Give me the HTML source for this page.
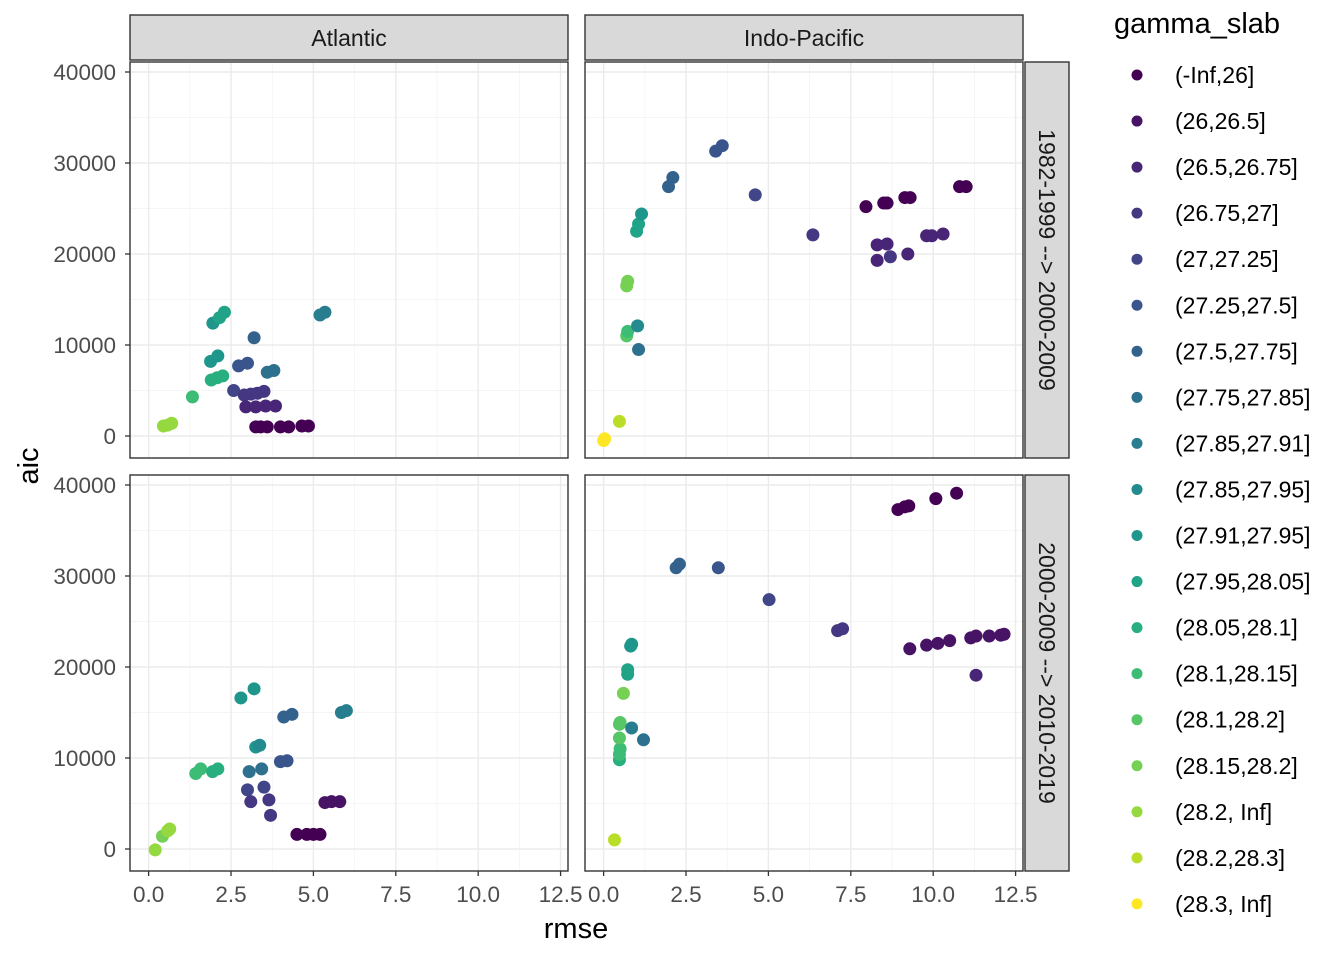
<!DOCTYPE html>
<html><head><meta charset="utf-8"><style>
html,body{margin:0;padding:0;background:#fff}
svg text{font-family:"Liberation Sans",sans-serif}
</style></head><body>
<svg id="chart" width="1344" height="960" xmlns="http://www.w3.org/2000/svg"></svg>
<script>
const levels=["(-Inf,26]","(26,26.5]","(26.5,26.75]","(26.75,27]","(27,27.25]","(27.25,27.5]","(27.5,27.75]","(27.75,27.85]","(27.85,27.91]","(27.85,27.95]","(27.91,27.95]","(27.95,28.05]","(28.05,28.1]","(28.1,28.15]","(28.1,28.2]","(28.15,28.2]","(28.2, Inf]","(28.2,28.3]","(28.3, Inf]"];
const colors=["#440154","#471365","#482576","#453781","#404688","#39558C","#33638D","#2D718E","#287D8E","#238A8D","#1F968B","#20A386","#29AF7F","#3CBC75","#56C667","#75D054","#95D840","#BADE28","#FDE725"];
const xTicks=[0,2.5,5,7.5,10,12.5];
const xTickLabels=["0.0","2.5","5.0","7.5","10.0","12.5"];
const yTicks=[0,10000,20000,30000,40000];
const colFacets=["Atlantic","Indo-Pacific"];
const rowFacets=["1982-1999 --> 2000-2009","2000-2009 --> 2010-2019"];
// panel 0: Atlantic top
const p0Cat=[16,16,16,13,12,12,12,10,10,10,11,11,4,5,5,6,7,7,8,8,3,3,3,3,2,2,2,2,0,0,0,0,0,0,0];
const p0X=[0.45,0.58,0.7,1.33,1.9,2.08,2.25,1.88,2.1,1.95,2.15,2.3,2.58,2.73,3.0,3.2,3.6,3.8,5.2,5.35,2.9,3.1,3.3,3.5,2.95,3.25,3.55,3.85,3.25,3.4,3.6,4.0,4.25,4.65,4.85];
const p0Y=[1100,1200,1400,4300,6150,6400,6600,8200,8800,12400,13000,13600,5000,7700,8000,10800,7000,7200,13300,13600,4500,4600,4700,4900,3200,3200,3300,3300,1000,1000,1000,1000,1000,1100,1100];
// panel 1: Indo-Pacific top
const p1Cat=[18,18,17,15,15,14,13,9,7,11,11,10,6,6,5,5,4,3,0,0,0,0,0,0,0,2,2,2,3,2,2,2,2];
const p1X=[0,0.03,0.48,0.7,0.73,0.7,0.73,1.03,1.06,1.0,1.06,1.15,1.97,2.1,3.4,3.6,4.6,6.35,7.96,8.5,8.6,9.14,9.3,10.8,11.0,8.3,8.6,8.3,8.7,9.23,9.8,9.96,10.3];
const p1Y=[-500,-300,1600,16500,17000,11000,11500,12100,9500,22500,23300,24400,27400,28400,31300,31900,26500,22100,25200,25600,25600,26200,26200,27400,27400,21000,21100,19300,19700,20000,22000,22000,22200];
// panel 2: Atlantic bottom
const p2Cat=[16,15,16,16,13,13,12,12,10,10,10,9,7,7,6,6,5,5,8,8,4,4,3,3,3,0,0,0,0,1,1,1];
const p2X=[0.2,0.42,0.58,0.64,1.43,1.58,1.94,2.1,2.8,3.2,3.25,3.37,3.05,3.43,4.1,4.35,4.0,4.2,5.85,6.0,3.0,3.5,3.1,3.65,3.7,4.5,4.8,5.0,5.2,5.35,5.55,5.8];
const p2Y=[-100,1400,2000,2200,8300,8800,8500,8800,16600,17600,11200,11400,8500,8800,14500,14800,9600,9700,15000,15200,6500,6800,5200,5400,3700,1600,1600,1600,1600,5100,5200,5200];
// panel 3: Indo-Pacific bottom
const p3Cat=[17,12,13,13,14,14,14,15,11,11,10,10,8,7,6,6,5,4,3,3,0,0,0,0,0,1,1,1,1,1,1,1,1,1,2];
const p3X=[0.33,0.48,0.48,0.5,0.48,0.48,0.5,0.6,0.73,0.73,0.82,0.85,0.85,1.21,2.2,2.3,3.48,5.02,7.1,7.25,8.93,9.14,9.26,10.08,10.71,9.29,9.8,10.14,10.5,11.14,11.3,11.7,12.05,12.15,11.3];
const p3Y=[1000,9800,10400,11000,12200,13700,13900,17100,19200,19700,22300,22500,13300,12000,30900,31300,30900,27400,24000,24200,37300,37600,37700,38500,39100,22000,22400,22600,22900,23200,23400,23400,23500,23600,19100];

const svg=document.getElementById('chart');
const NS="http://www.w3.org/2000/svg";
function mk(tag,attrs,parent){const e=document.createElementNS(NS,tag);for(const k in attrs)e.setAttribute(k,attrs[k]);(parent||svg).appendChild(e);return e;}
const panels=[{x0:130,x1:568,y0:62,y1:458,cat:p0Cat,xs:p0X,ys:p0Y,name:'atlantic-1982'},
{x0:585,x1:1023,y0:62,y1:458,cat:p1Cat,xs:p1X,ys:p1Y,name:'indopacific-1982'},
{x0:130,x1:568,y0:475,y1:871,cat:p2Cat,xs:p2X,ys:p2Y,name:'atlantic-2000'},
{x0:585,x1:1023,y0:475,y1:871,cat:p3Cat,xs:p3X,ys:p3Y,name:'indopacific-2000'}];
const xmin=-0.565,xmax=12.725,ymin=-2418,ymax=41099;
panels.forEach((p,pi)=>{
  const sx=v=>p.x0+(v-xmin)/(xmax-xmin)*(p.x1-p.x0);
  const sy=v=>p.y1-(v-ymin)/(ymax-ymin)*(p.y1-p.y0);
  const g=mk('g',{});
  
  
  mk('rect',{x:p.x0,y:p.y0,width:p.x1-p.x0,height:p.y1-p.y0,fill:'#fff'},g);
  for(let v=1.25;v<13;v+=2.5)mk('line',{x1:sx(v),x2:sx(v),y1:p.y0,y2:p.y1,stroke:'#F2F2F2','stroke-width':0.7},g);
  for(let v=-5000;v<=45000;v+=10000){if(v>ymin&&v<ymax)mk('line',{x1:p.x0,x2:p.x1,y1:sy(v),y2:sy(v),stroke:'#F2F2F2','stroke-width':0.7},g);}
  xTicks.forEach(v=>mk('line',{x1:sx(v),x2:sx(v),y1:p.y0,y2:p.y1,stroke:'#EBEBEB','stroke-width':1.4},g));
  yTicks.forEach(v=>mk('line',{x1:p.x0,x2:p.x1,y1:sy(v),y2:sy(v),stroke:'#EBEBEB','stroke-width':1.4},g));
  p.cat.forEach((c,i)=>{
    const pt=mk('circle',{cx:sx(p.xs[i]),cy:sy(p.ys[i]),r:6.5,fill:colors[c]},g);
    
    
  });
  mk('rect',{x:p.x0,y:p.y0,width:p.x1-p.x0,height:p.y1-p.y0,fill:'none',stroke:'#333','stroke-width':1.4},g);
  if(pi>=2){xTicks.forEach((v,i)=>{mk('line',{x1:sx(v),x2:sx(v),y1:p.y1,y2:p.y1+5,stroke:'#333','stroke-width':1.3},g);
    const t=mk('text',{x:sx(v),y:p.y1+31,'text-anchor':'middle','font-size':'22.5',fill:'#4D4D4D'},g);t.textContent=xTickLabels[i];
    
    });}
  if(pi%2===0){yTicks.forEach(v=>{mk('line',{x1:p.x0-5,x2:p.x0,y1:sy(v),y2:sy(v),stroke:'#333','stroke-width':1.3},g);
    const t=mk('text',{x:p.x0-14,y:sy(v)+8,'text-anchor':'end','font-size':'22.5',fill:'#4D4D4D'},g);t.textContent=String(v);
    
    });}
});
[[130,568],[585,1023]].forEach((c,i)=>{
  const r=mk('rect',{x:c[0],y:15,width:c[1]-c[0],height:45,fill:'#D9D9D9',stroke:'#333','stroke-width':1.4});
  
  
  const t=mk('text',{x:(c[0]+c[1])/2,y:46,'text-anchor':'middle','font-size':'23',fill:'#1A1A1A'});t.textContent=colFacets[i];
  
  
});
[[62,458],[475,871]].forEach((r,i)=>{
  const rc=mk('rect',{x:1025,y:r[0],width:44,height:r[1]-r[0],fill:'#D9D9D9',stroke:'#333','stroke-width':1.4});
  
  
  const cy=(r[0]+r[1])/2;
  const t=mk('text',{x:cy,y:-1039,'text-anchor':'middle','font-size':'23',fill:'#1A1A1A',transform:'rotate(90)'});t.textContent=rowFacets[i];
  
  
});
let t=mk('text',{x:576,y:938,'text-anchor':'middle','font-size':'29',fill:'#000'});t.textContent='rmse';


t=mk('text',{x:38,y:466,'text-anchor':'middle','font-size':'29',fill:'#000',transform:'rotate(-90 38 466)'});t.textContent='aic';


t=mk('text',{x:1114,y:33,'font-size':'29',fill:'#000'});t.textContent='gamma_slab';


levels.forEach((l,i)=>{
  const y=75+i*46.05;
  const g=mk('g',{});
  
  
  mk('circle',{cx:1137,cy:y,r:5.5,fill:colors[i]},g);
  const tt=mk('text',{x:1175,y:y+8,'font-size':'23',fill:'#000'},g);tt.textContent=l;
});
</script>
</body></html>
